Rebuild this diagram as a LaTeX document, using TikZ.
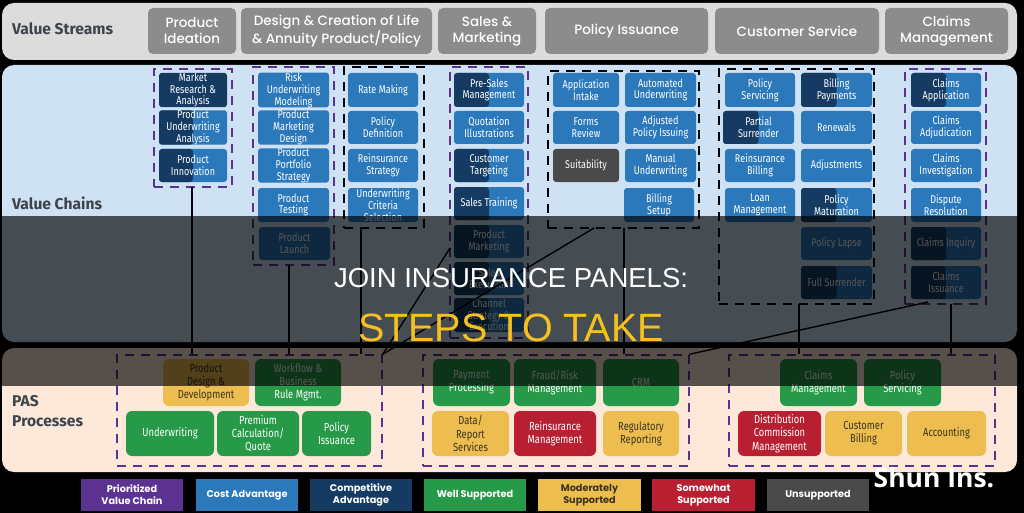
\documentclass[tikz,border=0pt]{standalone}
\usepackage{fontspec}
\setmainfont{Fira Sans}
\newfontfamily\cellfont{Fira Sans}[FakeStretch=0.8]
\newfontfamily\headfont{Poppins}[UprightFont={* Medium}, BoldFont={* Bold}]
\newfontfamily\titlefont{Liberation Sans}
\newfontfamily\markfont{Open Sans}
\usetikzlibrary{positioning}
\definecolor{Streams}{HTML}{DCDCDC}
\definecolor{Chains}{HTML}{CFE2F3}
\definecolor{Processes}{HTML}{FDE8DA}
\definecolor{Head}{HTML}{8C8C8C}
\definecolor{Label}{HTML}{3D444C}
\definecolor{Sky}{HTML}{2B78BB}
\definecolor{Navy}{HTML}{163B63}
\definecolor{Plum}{HTML}{5C3290}
\definecolor{Leaf}{HTML}{279A49}
\definecolor{Gold}{HTML}{EEBD4F}
\definecolor{Wine}{HTML}{B81F30}
\definecolor{Slate}{HTML}{4A4A4A}
\definecolor{Ink}{HTML}{3A3320}
\definecolor{Bright}{HTML}{F7C021}

\begin{document}
\begin{tikzpicture}[x=1pt, y=-1pt]
			\tikzstyle{Span}	= [inner sep=0pt, align=center, minimum width={(\c-\a)*1pt}, minimum height={(\d-\b)*1pt}]
			\tikzstyle{Panel}	= [Span, rounded corners=12pt]
			\tikzstyle{HeadBox}	= [Span, rounded corners=5pt, fill=Head, text=white, font=\headfont\fontsize{13.5}{16}\selectfont]
			\tikzstyle{Cell}	= [Span, rounded corners=3pt, text=white, font=\cellfont\fontsize{11.3}{11.8}\selectfont]
			\tikzstyle{Pas}		= [Span, rounded corners=6pt, text=white, font=\cellfont\fontsize{11.7}{13.2}\selectfont]
			\tikzstyle{Half}	= [path picture={\fill [Navy] (path picture bounding box.north west) rectangle (path picture bounding box.south);}]
			\tikzstyle{Key}		= [Span, text=white, font=\headfont\bfseries\fontsize{9.7}{12}\selectfont]
			\tikzstyle{Group}	= [Span, draw, line width=1.7pt, dash pattern=on 9pt off 7pt]
			\tikzstyle{Link}	= [black, line width=1.4pt]
			\tikzstyle{Side}	= [Label, anchor=west, inner sep=0pt, font=\bfseries\fontsize{15.6}{20}\selectfont, align=left]

			\fill [black] (0, 0) rectangle (1024, 513);

			% rows
			\foreach \n/\a/\b/\c/\d/\f in {panelStreams/2/3/1017/60/Streams, panelChains/2/65/1017/342/Chains, panelProcesses/2/348/1017/472/Processes}
				\node (\n) at ({(\a+\c)/2}, {(\b+\d)/2}) [Panel, fill=\f] {};

			\foreach \n/\a/\b/\c/\d/\t in {headIdeation/148/8/236/54/{Product\\Ideation}, headDesign/241/8/432/54/{Design \& Creation of Life\\\& Annuity Product/Policy}, headSales/438/8/536/54/{Sales \&\\Marketing}, headIssuance/545/8/708/54/{Policy Issuance}, headService/715/8/879/54/{Customer Service}, headClaims/885/8/1008/54/{Claims\\Management}}
				\node (\n) at ({(\a+\c)/2}, {(\b+\d)/2}) [HeadBox] {\t};

			\node (sideStreams) at (12, 29) [Side] {Value Streams};
			\node (sideChains) at (12, 203) [Side] {Value Chains};
			\node (sidePas) at (12, 411) [Side] {PAS\\Processes};

			% value chains
			\foreach \n/\a/\b/\c/\d/\t in {cellResearch/159/73/227/107/{Market\\Research \&\\Analysis}}
				\node (\n) at ({(\a+\c)/2}, {(\b+\d)/2}) [Cell, fill=Navy] {\t};
			\foreach \n/\a/\b/\c/\d/\t in {cellUwAnalysis/159/111/227/144/{Product\\Underwriting\\Analysis}, cellInnovation/159/149/227/182/{Product\\Innovation}, cellPreSales/454/73/524/107/{Pre-Sales\\Management}, cellTargeting/454/149/524/182/{Customer\\Targeting}, cellTraining/454/187/524/220/{Sales Training}, cellMarketing/454/225/524/258/{Product\\Marketing}, cellExecution/454/262/524/295/{Sales\\Execution}, cellChannel/454/298/524/332/{Channel\\Strategy \&\\Execution}, cellPayments/801/73/872/107/{Billing\\Payments}, cellSurrender/723/111/794/144/{Partial\\Surrender}, cellMaturation/801/188/872/222/{Policy\\Maturation}, cellFull/801/266/872/299/{Full Surrender}, cellApplication/911/73/981/107/{Claims\\Application}, cellInquiry/911/227/981/260/{Claims Inquiry}, cellIssuance/911/266/981/299/{Claims\\Issuance}}
				\node (\n) at ({(\a+\c)/2}, {(\b+\d)/2}) [Cell, fill=Sky, Half] {\t};
			\foreach \n/\a/\b/\c/\d/\t in {cellRisk/258/73/329/107/{Risk\\Underwriting\\Modeling}, cellMktDesign/258/111/329/144/{Product\\Marketing\\Design}, cellPortfolio/258/149/329/182/{Product\\Portfolio\\Strategy}, cellTesting/258/188/329/222/{Product\\Testing}, cellLaunch/259/227/330/260/{Product\\Launch}, cellRate/348/73/418/107/{Rate Making}, cellDefinition/348/111/418/144/{Policy\\Definition}, cellStrategy/348/149/418/182/{Reinsurance\\Strategy}, cellCriteria/348/188/418/222/{Underwriting\\Criteria\\Selection}, cellQuotation/454/111/524/144/{Quotation\\Illustrations}, cellIntake/553/73/619/107/{Application\\Intake}, cellForms/553/111/619/144/{Forms\\Review}, cellAutomated/625/73/696/107/{Automated\\Underwriting}, cellAdjusted/625/111/696/144/{Adjusted\\Policy Issuing}, cellManual/625/149/696/182/{Manual\\Underwriting}, cellSetup/624/188/694/222/{Billing\\Setup}, cellServicing/725/73/795/107/{Policy\\Servicing}, cellReBilling/725/149/795/182/{Reinsurance\\Billing}, cellLoan/725/188/795/222/{Loan\\Management}, cellRenewals/801/111/872/144/{Renewals}, cellAdjust/801/149/872/182/{Adjustments}, cellLapse/801/227/872/260/{Policy Lapse}, cellAdjudication/911/111/981/144/{Claims\\Adjudication}, cellInvestigation/911/149/981/182/{Claims\\Investigation}, cellDispute/911/188/981/222/{Dispute\\Resolution}}
				\node (\n) at ({(\a+\c)/2}, {(\b+\d)/2}) [Cell, fill=Sky] {\t};
			\foreach \n/\a/\b/\c/\d/\t in {cellSuitability/553/149/619/182/{Suitability}}
				\node (\n) at ({(\a+\c)/2}, {(\b+\d)/2}) [Cell, fill=Slate] {\t};

			\foreach \n/\a/\b/\c/\d in {groupIdeation/154/69/232/187, groupRisk/253/67/334/265, groupSales/450/67/528/338, groupClaims/905/69/986/304}
				\node (\n) at ({(\a+\c)/2}, {(\b+\d)/2}) [Group, Plum] {};
			\foreach \n/\a/\b/\c/\d in {groupRate/344/67/424/228, groupIssue/548/71/699/228, groupCare/719/69/874/304}
				\node (\n) at ({(\a+\c)/2}, {(\b+\d)/2}) [Group, black] {};

			% pas processes
			\foreach \n/\a/\b/\c/\d/\t in {pasWorkflow/255/359/341/406/{Workflow \&\\Business\\Rule  Mgmt.}, pasUw/126/411/214/456/{Underwriting}, pasPremium/217/411/299/456/{Premium\\Calculation/\\Quote}, pasPolicy/302/411/371/456/{Policy\\Issuance}, pasPayment/433/359/510/406/{Payment\\Processing}, pasFraud/514/359/596/406/{Fraud/Risk\\Management}, pasCrm/603/359/679/406/{CRM}, pasClaims/780/359/857/406/{Claims\\Management}, pasServicing/864/359/941/406/{Policy\\Servicing}}
				\node (\n) at ({(\a+\c)/2}, {(\b+\d)/2}) [Pas, fill=Leaf] {\t};
			\foreach \n/\a/\b/\c/\d/\t in {pasProduct/163/359/249/406/{Product\\Design \&\\Development}, pasData/432/411/509/456/{Data/\\Report\\Services}, pasRegulatory/603/411/679/456/{Regulatory\\Reporting}, pasBilling/825/411/902/456/{Customer\\Billing}, pasAccounting/907/411/986/456/{Accounting}}
				\node (\n) at ({(\a+\c)/2}, {(\b+\d)/2}) [Pas, fill=Gold, text=Ink] {\t};
			\foreach \n/\a/\b/\c/\d/\t in {pasReinsurance/514/411/596/456/{Reinsurance\\Management}, pasDistribution/738/411/821/456/{Distribution\\Commission\\Management}}
				\node (\n) at ({(\a+\c)/2}, {(\b+\d)/2}) [Pas, fill=Wine] {\t};

			\foreach \n/\a/\b/\c/\d in {groupPasA/117/355/382/466, groupPasB/423/355/689/466, groupPasC/729/355/995/466}
				\node (\n) at ({(\a+\c)/2}, {(\b+\d)/2}) [Group, Plum] {};

			% links
			\foreach \n/\x/\y in {linkIdeation/192/187, linkRisk/289/265, linkRate/361/228, linkSales/450/248, linkIntake/594/228, linkSetup/624/228, linkCare/799/304, linkClaims/951/304, linkInquiry/928/302}
				\coordinate (\n) at (\x, \y);
			\foreach \s/\e in {linkIdeation/groupPasA, linkRisk/groupPasA, linkRate/groupPasA, linkSetup/groupPasB, linkCare/groupPasC, linkClaims/groupPasC}
				\draw (\s) -- (\s |- \e.north) [Link];
			\foreach \s/\e in {linkSales/groupPasA, linkIntake/groupPasA, linkInquiry/groupPasB}
				\draw (\s) -- (\e.north east) [Link];

			% legend
			\foreach \n/\a/\b/\c/\d/\f/\t in {keyPriority/81/479/183/511/Plum/{Prioritized\\Value Chain}, keyCost/196/479/298/511/Sky/{Cost Advantage}, keyCompetitive/310/479/412/511/Navy/{Competitive\\Advantage}, keyWell/424/479/526/511/Leaf/{Well Supported}, keySomewhat/652/479/755/511/Wine/{Somewhat\\Supported}, keyNone/767/479/869/511/Slate/{Unsupported}}
				\node (\n) at ({(\a+\c)/2}, {(\b+\d)/2}) [Key, fill=\f] {\t};
			\foreach \n/\a/\b/\c/\d in {keyModerate/538/479/641/511}
				\node (\n) at ({(\a+\c)/2}, {(\b+\d)/2}) [Key, fill=Gold, text=Ink] {Moderately\\Supported};

			% banner
			\foreach \n/\a/\b/\c/\d in {band/0/216/1024/386}
				\node (\n) at ({(\a+\c)/2}, {(\b+\d)/2}) [Span, fill=black, fill opacity=0.66] {};
			\node (title) at (511, 278) [white, font=\titlefont\fontsize{27.5}{32}\selectfont] {JOIN INSURANCE PANELS:};
			\node (subtitle) at (511, 328) [Bright, font=\titlefont\fontsize{39.5}{42}\selectfont] {STEPS TO TAKE};
			\node (mark) at (934, 478) [white, font=\markfont\bfseries\fontsize{26.5}{30}\selectfont] {Shun Ins.};
\end{tikzpicture}
\end{document}
